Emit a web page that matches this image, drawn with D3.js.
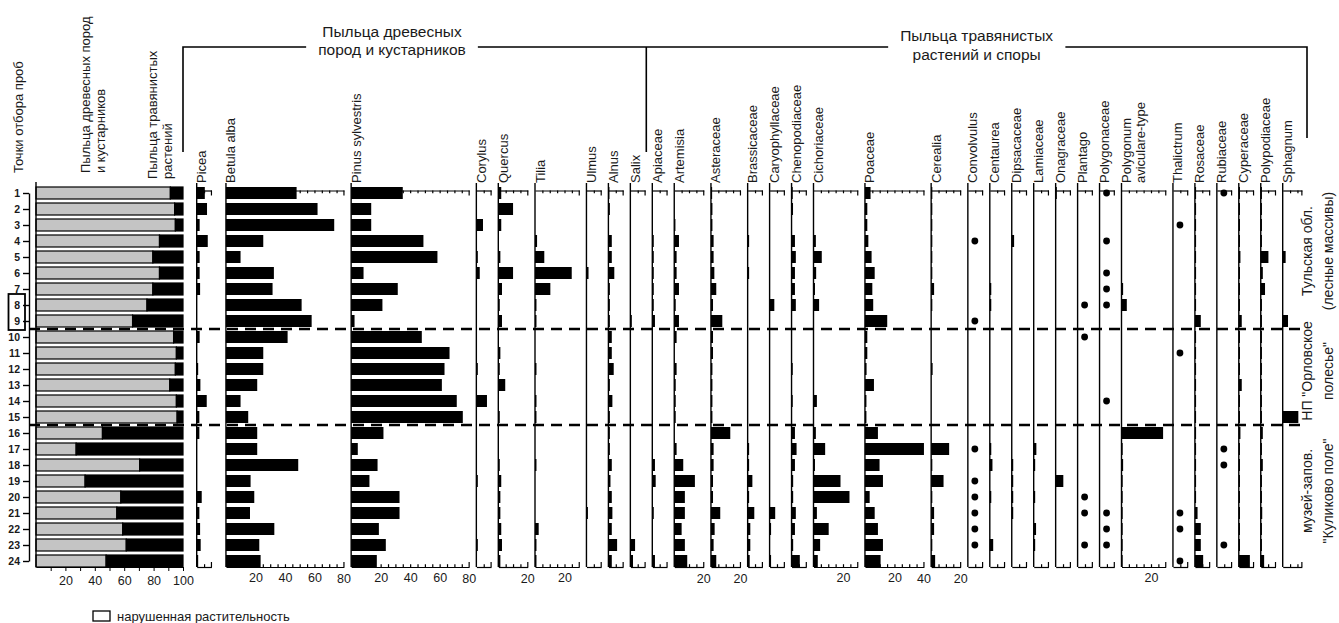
<!DOCTYPE html>
<html lang="ru">
<head>
<meta charset="utf-8">
<title>Спорово-пыльцевая диаграмма</title>
<script src="https://cdn.jsdelivr.net/npm/d3@7/dist/d3.min.js"></script>
<style>
  html, body { margin: 0; padding: 0; background: #fff; }
  svg { display: block; }
  text { font-family: "Liberation Sans", Arial, sans-serif; fill: #1a1a1a; }
</style>
</head>
<body>
<svg id="chart" width="1339" height="623"></svg>
<script>
// ---------- data (percent of pollen sum) ----------
const samples = [1,2,3,4,5,6,7,8,9,10,11,12,13,14,15,16,17,18,19,20,21,22,23,24];
const boxedSamples = [8, 9];          // disturbed vegetation
const zoneBreaks = [9, 15];           // dashed separators below these samples

// share of tree & shrub pollen (grey); the rest up to 100 is herbs (black)
const arboreal = [91.4,94.3,94.8,84,79.5,84,79.5,75.5,65.7,93.6,95.5,94.8,91,95.5,96,45.2,27.3,70.5,33.4,57.7,55,59,61.4,47.7];

const picea      = [5.5,7,2,7.5,2,2,2.3,0,0,2,0,1,2.5,6.8,1.8,1.8,0,0,0,3.4,1.8,2.3,2.7,1];
const betula     = [47.9,62.1,73.4,25.3,9.9,32.5,31.6,51.3,58.1,41.8,25.3,25.3,21.2,9.9,15.1,21.2,21.2,49,16.7,19.2,16.3,32.8,22.6,23.5];
const pinus      = [35,13.6,13.6,49,58.5,8.4,31.6,21.2,2.3,47.9,66.7,63.3,61.5,71.6,75.7,21.9,4.5,17.9,12.4,32.8,32.8,18.8,23.5,17.4];
const corylus    = [0,0,4.5,0,1,2.3,0,0,0,0,0,1,0,7.2,0,0,0,0,1,0,0,0,1,0];
const quercus    = [2,10,2,0,1.4,10,2.5,1,2.5,0,1.4,1,4.7,0,1,0,0,1,2,1.4,1.4,2,2.5,1.4];
const tilia      = [0,0,0,1.4,6.3,24.9,10.4,1,1,0,0,1,0,1,1,0,0,1,0,0,0,2.5,1,1];
const ulmus      = [0,0,0,0,0,1.4,0,0,0,0,0,0,0,0,0,0,0,0,0,0,1,0,0,0];
const alnus      = [0.7,1,0,2.3,2.3,4,1,1,1,2.3,2.3,3.6,1,2.7,1,1,1,2.3,1.4,2.3,2.7,2.3,5.9,2.3];
const salix      = [0,0,0,0,0,0,0,0,1,0,0,0,0,0,0,0,0,0,0,0,0,0,3.2,1.8];
const apiaceae   = [0,0,0,1,1,1,1,1,1.8,0,0,0,0,0,0,0,0,1.8,2.3,0,1,0,0,1.8];
const artemisia  = [0,0,0.8,3.2,1.6,1.6,3.2,1,3.2,1.6,0,1.6,1,1,1,0,1.6,6.1,14,7.2,7.2,5,7.2,8.8];
const asteraceae = [0.8,1,1,1.8,1.8,2.3,3.6,1.4,7.7,1.4,1.4,1,1,1,1,13.1,1.8,1.8,1.4,1.4,6.3,2.5,1.8,3.6];
const brassicaceae = [0,0,0,1,0,1,0,0,0,0,0,0,0,0,0,0,1,1,3.2,1,4.5,1.8,1.8,1.4];
const caryophyllaceae = [0,0,0,0,0,0,0,3.2,0,0,0,0,0,0,0,0,0,0,0,0,3.8,1,0,1];
const chenopodiaceae = [0.8,1,0,2.3,2.9,2.3,2.3,2.9,0,0,0,0.8,0,0.8,0,2.3,3.4,2.3,1.1,1.1,2.9,2.3,1.1,5.6];
const cichoriaceae = [0,0,0,1.6,5.6,1.8,1,3.8,0,0,0,0,0,2.3,0,1.6,7.9,1,18.3,24.4,2.3,10.3,4.5,2.9];
const poaceae    = [3.8,1.6,1.6,2.3,4.5,6.6,5,5.6,15.1,1.6,1.6,1.1,6.1,1,1,8.8,40,9.9,12.2,3.2,6.6,8.8,12.2,10.6];
const cerealia   = [0.8,0.8,0.8,0.8,0.8,0.8,2,0.8,0,0,0,1,0,0,0,0,12.2,0.8,8.4,0.8,2,2,0.8,2.7];
const centaurea  = [0,0,0,0,0,0,1,1,0,0,0,0,0,0,0,0,1,1.8,0,1,0,0,2.3,0];
const dipsacaceae = [0,0,0,1.6,0,0,0,0,0,0,0,0,0,0,0,0,0,1,1,1,1,0,0,0];
const lamiaceae  = [0,0,0,0,0,0,0,0,0,0,0,0,0,0,0,0,1.8,1,0,1,0,1.6,1,0];
const onagraceae = [0.8,0,0,0,0,0,0,0,0,0,0,0,0,0,0,0,0,0,5.2,0,0,0,0,0];
const polygonumAvic = [0,0,0,0,0,0,1.1,3.6,0,0,0,0,0,0,0,28.2,0.8,1.1,0.8,0.8,0.8,0.8,0.8,0.8];
const rosaceae   = [0.8,0.8,0.8,0.8,0.8,0.8,0.8,0.8,4,0.8,0.8,0.8,0.8,0.8,0.8,0.8,0.8,0.8,0.8,0.8,1.8,4,4,5.6];
const cyperaceae = [0.8,0.8,0.8,0.8,1.1,0.8,0.8,0.8,2,0.8,0.8,0.8,2,0.8,0.8,1.1,0.8,0.8,0.8,0.8,0.8,0.8,0.8,7.5];
const polypodiaceae = [0.8,0.8,0.8,0.8,5.2,1.4,2.9,0.8,0.8,0.8,0.8,0.8,0.8,0.8,0.8,1.4,0.8,1.4,0.8,0.8,1,0.8,0.8,2.3];
const sphagnum   = [0,0,0,0,2,0,0,0,3.6,0,0,0,0,0,10.6,0,0,0,0,0,0,0,0,0];

// single finds (presence = 1)
const convolvulus  = [0,0,0,1,0,0,0,0,1,0,0,0,0,0,0,0,1,0,1,1,1,1,1,0];
const plantago     = [0,0,0,0,0,0,0,1,0,1,0,0,0,0,0,0,0,0,0,1,1,0,1,0];
const polygonaceae = [1,0,0,1,0,1,1,1,0,0,0,0,0,1,0,0,0,0,0,0,1,1,1,0];
const thalictrum   = [0,0,1,0,0,0,0,0,0,0,1,0,0,0,0,0,0,0,0,0,1,1,0,1];
const rubiaceae    = [1,0,0,0,0,0,0,0,0,0,0,0,0,0,0,0,1,1,0,0,0,0,1,0];

// taxon name, values, axis maximum (%), drawing kind
const taxa = [
  ["Picea", picea, 10, "bar"],
  ["Betula alba", betula, 80, "bar"],
  ["Pinus sylvestris", pinus, 80, "bar"],
  ["Corylus", corylus, 10, "bar"],
  ["Quercus", quercus, 20, "bar"],
  ["Tilia", tilia, 30, "bar"],
  ["Ulmus", ulmus, 10, "bar"],
  ["Alnus", alnus, 10, "bar"],
  ["Salix", salix, 10, "bar"],
  ["Apiaceae", apiaceae, 10, "bar"],
  ["Artemisia", artemisia, 20, "bar"],
  ["Asteraceae", asteraceae, 20, "bar"],
  ["Brassicaceae", brassicaceae, 10, "bar"],
  ["Caryophyllaceae", caryophyllaceae, 10, "bar"],
  ["Chenopodiaceae", chenopodiaceae, 10, "bar"],
  ["Cichoriaceae", cichoriaceae, 30, "bar"],
  ["Poaceae", poaceae, 40, "bar"],
  ["Cerealia", cerealia, 20, "bar"],
  ["Convolvulus", convolvulus, 10, "dot"],
  ["Centaurea", centaurea, 10, "bar"],
  ["Dipsacaceae", dipsacaceae, 10, "bar"],
  ["Lamiaceae", lamiaceae, 10, "bar"],
  ["Onagraceae", onagraceae, 10, "bar"],
  ["Plantago", plantago, 10, "dot"],
  ["Polygonaceae", polygonaceae, 10, "dot"],
  ["Polygonum|aviculare-type", polygonumAvic, 30, "bar"],
  ["Thalictrum", thalictrum, 10, "dot"],
  ["Rosaceae", rosaceae, 10, "bar"],
  ["Rubiaceae", rubiaceae, 10, "dot"],
  ["Cyperaceae", cyperaceae, 10, "bar"],
  ["Polypodiaceae", polypodiaceae, 10, "bar"],
  ["Sphagnum", sphagnum, 13, "bar"]
];

const leftHeaders = [
  ["Точки отбора проб"],
  ["Пыльца древесных пород", "и кустарников"],
  ["Пыльца травянистых", "растений"]
];
const groupTitles = [
  ["Пыльца древесных", "пород и кустарников"],
  ["Пыльца травянистых", "растений и споры"]
];
const zones = [
  [1, 9, "Тульская обл.", "(лесные массивы)"],
  [10, 15, "НП \"Орловское", "полесье\""],
  [16, 24, "музей-запов.", "\"Куликово поле\""]
];
const legendText = "нарушенная растительность";

// ---------- drawing ----------
const svg = d3.select("#chart");
const FONT = "'Liberation Sans', Arial, sans-serif";
const PX = 1.475;          // pixels per percent, common to all panels
const BAR = 12;
const TICK_FONT = 12.5;

const y = d3.scalePoint().domain(samples).range([193, 561]);
const topY = y(samples[0]) - 2.5;
const botY = y(samples[samples.length - 1]) + BAR / 2;
const labelY = 183;

// sample axis
const leftG = svg.append("g").attr("transform", "translate(29,0)")
  .call(d3.axisLeft(y).tickSize(6).tickSizeOuter(0).tickPadding(3));
leftG.select(".domain").attr("stroke-width", 1.4);
leftG.selectAll(".tick line").attr("stroke-width", 1.4);
leftG.selectAll("text").attr("font-size", 10.5).attr("font-weight", "bold").attr("font-family", FONT);

// frame around disturbed sites
svg.append("rect")
  .attr("x", 8.5).attr("y", y(boxedSamples[0]) - 11)
  .attr("width", 16.5).attr("height", y(boxedSamples[1]) - y(boxedSamples[0]) + 20)
  .attr("fill", "none").attr("stroke", "#000").attr("stroke-width", 1.8);

// panel 1: trees+shrubs vs herbs
const apX = d3.scaleLinear().domain([0, 100]).range([36, 183]);
const p1 = svg.append("g");
p1.selectAll("rect.ap").data(samples).join("rect").attr("class", "ap")
  .attr("x", apX(0)).attr("y", d => y(d) - BAR / 2)
  .attr("width", (d, i) => apX(arboreal[i]) - apX(0)).attr("height", BAR)
  .attr("fill", "#c4c4c4").attr("stroke", "#000").attr("stroke-width", 1.2);
p1.selectAll("rect.nap").data(samples).join("rect").attr("class", "nap")
  .attr("x", (d, i) => apX(arboreal[i])).attr("y", d => y(d) - BAR / 2)
  .attr("width", (d, i) => apX(100) - apX(arboreal[i])).attr("height", BAR)
  .attr("fill", "#000").attr("stroke", "#000").attr("stroke-width", 1.2);
p1.append("line").attr("x1", apX(0)).attr("x2", apX(0)).attr("y1", 182).attr("y2", botY)
  .attr("stroke", "#000").attr("stroke-width", 1.4);
const p1Axis = p1.append("g").attr("transform", `translate(0,${botY})`)
  .call(d3.axisBottom(apX).tickValues(d3.range(10, 101, 10)).tickSizeInner(4).tickSizeOuter(0)
    .tickPadding(5).tickFormat(d => d % 20 === 0 ? d : ""));
p1Axis.select(".domain").attr("stroke-width", 1.2);
p1Axis.selectAll("text").attr("font-size", TICK_FONT).attr("font-family", FONT);

// header labels of panel 1
const hdrX = [[18], [85, 100], [152, 167]];
const hdrStart = [173, 173, 179];
leftHeaders.forEach((lines, i) => {
  lines.forEach((s, j) => {
    svg.append("text")
      .attr("transform", `translate(${hdrX[i][j] + 5},${hdrStart[i]}) rotate(-90)`)
      .attr("font-size", 13).text(s);
  });
});

// taxon panels
let x0 = apX(100) + 13.7;
const starts = {};
taxa.forEach(([name, vals, max, kind], i) => {
  const sx = d3.scaleLinear().domain([0, max]).range([x0, x0 + max * PX]);
  starts[name] = x0;
  const g = svg.append("g");
  const tv = d3.range(5, max, 5);

  // top axis
  const ta = g.append("g").attr("transform", `translate(0,${topY})`)
    .call(d3.axisTop(sx).tickValues(tv).tickSizeInner(-2.8).tickSizeOuter(0).tickFormat(""));
  // bottom axis
  const ba = g.append("g").attr("transform", `translate(0,${botY})`)
    .call(d3.axisBottom(sx).tickValues(tv).tickSizeInner(-2.8).tickSizeOuter(0).tickPadding(6)
      .tickFormat(d => d % 20 === 0 ? d : ""));
  // end ticks
  g.append("line").attr("x1", sx(max)).attr("x2", sx(max)).attr("y1", topY).attr("y2", topY + 5);
  g.append("line").attr("x1", sx(max)).attr("x2", sx(max)).attr("y1", botY).attr("y2", botY - 5);
  if (max % 20 === 0) {
    // scale end labelled when it is a multiple of 20
    g.append("text").attr("x", sx(max)).attr("y", botY + 15.5).attr("text-anchor", "middle")
      .attr("font-size", TICK_FONT).text(max);
  }
  g.selectAll("line").attr("stroke", "#000").attr("stroke-width", 1.2);

  // bars or dots
  if (kind === "bar") {
    g.selectAll("rect").data(samples.filter((d, j) => vals[j] > 0)).join("rect")
      .attr("x", sx(0)).attr("y", d => y(d) - BAR / 2)
      .attr("width", d => sx(vals[samples.indexOf(d)]) - sx(0)).attr("height", BAR)
      .attr("fill", "#000");
  } else {
    g.selectAll("circle").data(samples.filter((d, j) => vals[j] > 0)).join("circle")
      .attr("cx", sx(0) + 7).attr("cy", d => y(d)).attr("r", 3.4).attr("fill", "#000");
  }

  // zero line
  g.append("line").attr("x1", sx(0)).attr("x2", sx(0)).attr("y1", labelY).attr("y2", botY)
    .attr("stroke", "#000").attr("stroke-width", 1.4);

  // name
  name.split("|").forEach((part, j) => {
    g.append("text").attr("transform", `translate(${sx(0) + 9.5 + j * 14},${labelY}) rotate(-90)`)
      .attr("font-size", 13).text(part);
  });

  [ta, ba].forEach(a => {
    a.select(".domain").attr("stroke-width", 1.2);
    a.selectAll("text").attr("font-size", TICK_FONT).attr("font-family", FONT);
  });
  x0 = sx(max) + (i === 0 ? 14.5 : 7.2);
});

// zone separators
zoneBreaks.forEach(b => {
  const yy = (y(b) + y(b + 1)) / 2;
  svg.append("line").attr("x1", 29).attr("x2", 1300).attr("y1", yy).attr("y2", yy)
    .attr("stroke", "#000").attr("stroke-width", 2.6).attr("stroke-dasharray", "11 7");
});

// zone names
zones.forEach(([a, b, l1, l2]) => {
  const c = (y(a) + y(b)) / 2 - 6;
  [[1307, l1], [1328, l2]].forEach(([xx, s]) => {
    svg.append("text").attr("transform", `translate(${xx + 5},${c}) rotate(-90)`)
      .attr("text-anchor", "middle").attr("font-size", 14).text(s);
  });
});

// group brackets and titles
const bracketY = 47;
const leftEdge = apX(100);
const divider = starts["Apiaceae"] - 6;
const rightEdge = 1307;
const titleCx = [392, (divider + rightEdge) / 2];
const titleBase = [[37, 55], [41, 60]];
const gaps = [];
groupTitles.forEach((lines, i) => {
  const tg = svg.append("g");
  lines.forEach((s, j) => {
    tg.append("text").attr("x", titleCx[i]).attr("y", titleBase[i][j])
      .attr("text-anchor", "middle").attr("font-size", 15.5).text(s);
  });
  const bb = tg.node().getBBox();
  gaps.push([bb.x - 12, bb.x + bb.width + 12]);
});
const br = svg.append("g").attr("stroke", "#000").attr("stroke-width", 1.6).attr("fill", "none");
br.append("path").attr("d",
  `M${leftEdge},152V${bracketY}H${gaps[0][0]}` +
  `M${gaps[0][1]},${bracketY}H${gaps[1][0]}` +
  `M${gaps[1][1]},${bracketY}H${rightEdge}V138` +
  `M${divider},${bracketY}V152`);

// legend
svg.append("rect").attr("x", 93).attr("y", 611).attr("width", 17).attr("height", 10)
  .attr("fill", "#fff").attr("stroke", "#000").attr("stroke-width", 1.3);
svg.append("text").attr("x", 117).attr("y", 621).attr("font-size", 13).text(legendText);
</script>
</body>
</html>
